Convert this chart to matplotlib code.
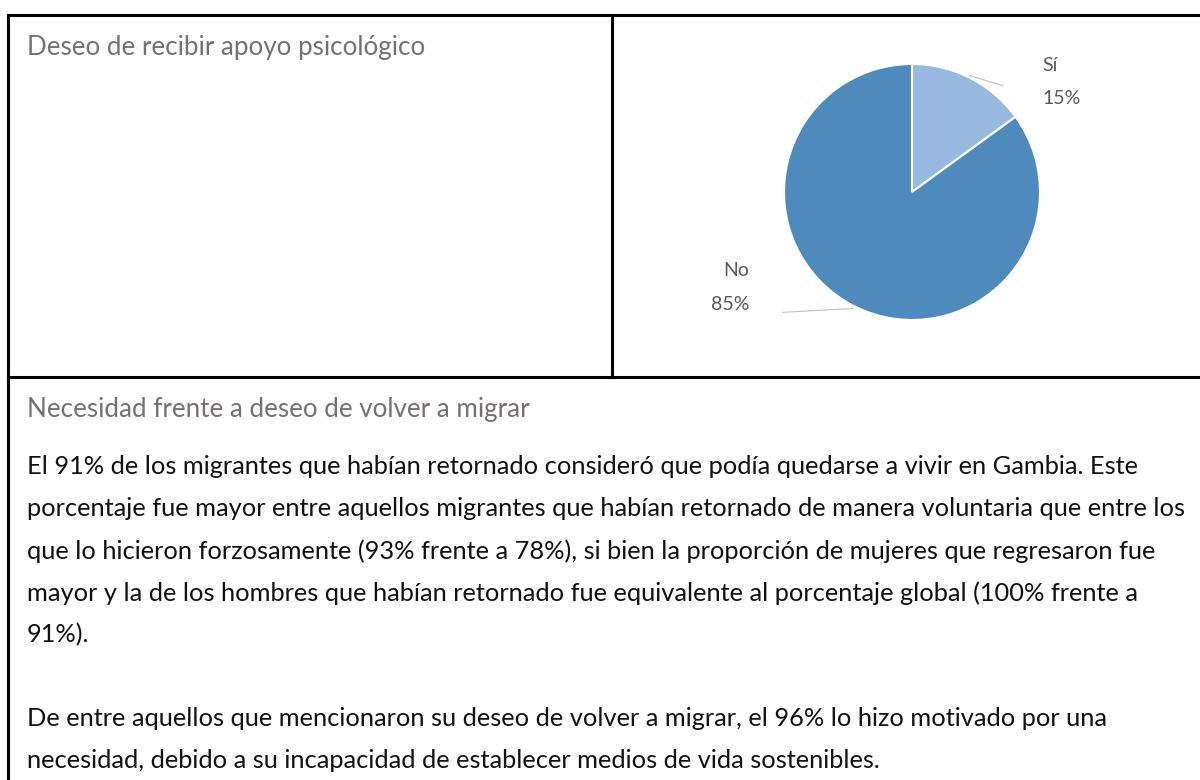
import matplotlib.pyplot as plt
from matplotlib.lines import Line2D

# datos del gráfico
categorias = ['Sí', 'No']
porcentajes = [15, 85]
colores = ['#97B9E0', '#4F8ABD']

titulo_grafico = 'Deseo de recibir apoyo psicológico'
titulo_seccion = 'Necesidad frente a deseo de volver a migrar'
parrafo1 = [
    'El 91% de los migrantes que habían retornado consideró que podía quedarse a vivir en Gambia. Este',
    'porcentaje fue mayor entre aquellos migrantes que habían retornado de manera voluntaria que entre los',
    'que lo hicieron forzosamente (93% frente a 78%), si bien la proporción de mujeres que regresaron fue',
    'mayor y la de los hombres que habían retornado fue equivalente al porcentaje global (100% frente a',
    '91%).',
]
parrafo2 = [
    'De entre aquellos que mencionaron su deseo de volver a migrar, el 96% lo hizo motivado por una',
    'necesidad, debido a su incapacidad de establecer medios de vida sostenibles.',
]

W, H = 1200, 780
plt.rcParams['font.family'] = ['Lato', 'DejaVu Sans']
fig = plt.figure(figsize=(W / 100, H / 100), dpi=100)


def fx(x):
    return x / W


def fy(y):
    return 1 - y / H


# bordes de la tabla
lw = 2.2
for (x0, y0, x1, y1) in [(8, 15, W, 15), (8, 15, 8, H), (612, 15, 612, 377), (8, 377, W, 377)]:
    fig.add_artist(Line2D([fx(x0), fx(x1)], [fy(y0), fy(y1)], color='black', lw=lw,
                          solid_capstyle='projecting'))

gris = '#767171'
tam_tit = 18.7
tam = 18.3
fig.text(fx(27), fy(47), titulo_grafico, color=gris, fontsize=tam_tit, va='center')
fig.text(fx(27), fy(410), titulo_seccion, color=gris, fontsize=tam_tit, va='center')

y = 467
for linea in parrafo1:
    fig.text(fx(27), fy(y), linea, color='#111111', fontsize=tam, va='center')
    y += 42
y = 719
for linea in parrafo2:
    fig.text(fx(27), fy(y), linea, color='#111111', fontsize=tam, va='center')
    y += 42

# gráfico circular
cx, cy, r = 912, 192, 128
ax = fig.add_axes([fx(cx - r), fy(cy + r), 2 * r / W, 2 * r / H])
ax.pie(porcentajes, colors=colores, startangle=90, counterclock=False,
       wedgeprops=dict(edgecolor='white', linewidth=1.5))
ax.set_xlim(-1, 1)
ax.set_ylim(-1, 1)
ax.set_aspect('equal')
ax.axis('off')

gris_et = '#595959'
tam_et = 14
# etiqueta Sí
ax.text(1.02, 0.99, categorias[0], color=gris_et, fontsize=tam_et, ha='left', va='center', clip_on=False)
ax.text(1.02, 0.73, f'{porcentajes[0]}%', color=gris_et, fontsize=tam_et, ha='left', va='center', clip_on=False)
ax.plot([0.45, 0.71], [0.91, 0.83], color='#BFBFBF', lw=0.8, clip_on=False)
# etiqueta No
ax.text(-1.27, -0.61, categorias[1], color=gris_et, fontsize=tam_et, ha='right', va='center', clip_on=False)
ax.text(-1.27, -0.88, f'{porcentajes[1]}%', color=gris_et, fontsize=tam_et, ha='right', va='center', clip_on=False)
ax.plot([-1.01, -0.46], [-0.94, -0.91], color='#BFBFBF', lw=0.8, clip_on=False)

fig.savefig('out.png', dpi=100)
